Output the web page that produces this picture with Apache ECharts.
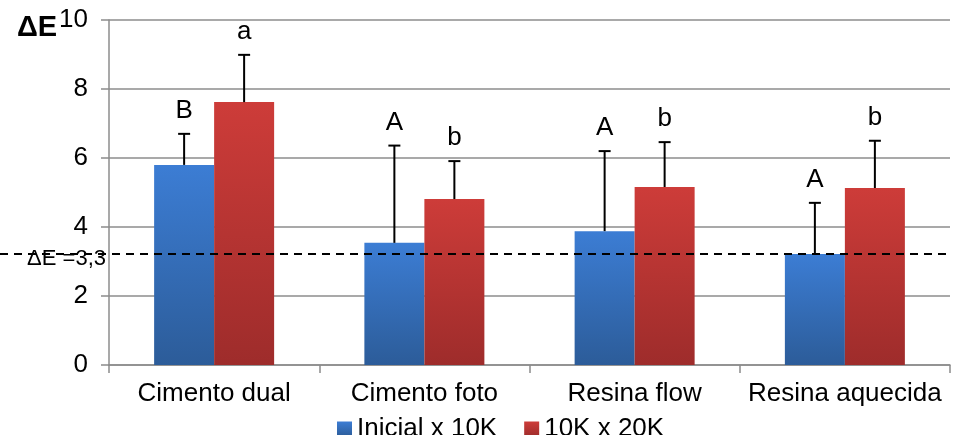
<!DOCTYPE html>
<html><head><meta charset="utf-8">
<script src="https://cdn.jsdelivr.net/npm/echarts@6/dist/echarts.min.js"></script>
<style>html,body{margin:0;padding:0;background:#fff}#c{width:955px;height:435px}</style>
</head><body><div id="c"></div>
<script>
const categories = ['Cimento dual', 'Cimento foto', 'Resina flow', 'Resina aquecida'];
const seriesNames = ['Inicial x 10K', '10K x 20K'];
const inicialMean = [5.80, 3.54, 3.88, 3.22];
const inicialErr  = [6.70, 6.36, 6.20, 4.70];
const inicialLetters = ['B', 'A', 'A', 'A'];
const k20Mean = [7.62, 4.81, 5.16, 5.13];
const k20Err  = [8.99, 5.91, 6.46, 6.50];
const k20Letters = ['a', 'b', 'b', 'b'];
const yTicks = [0, 2, 4, 6, 8, 10];
const threshold = 3.22;
const thresholdLabel = 'ΔE =3,3';

const BAR_W = 60;
const FONT = 'Liberation Sans, Arial, sans-serif';
const FS = 26;

const blueGrad = new echarts.graphic.LinearGradient(0,0,0,1,[{offset:0,color:'#3c7dd4'},{offset:1,color:'#2c5c99'}]);
const redGrad = new echarts.graphic.LinearGradient(0,0,0,1,[{offset:0,color:'#cd3c39'},{offset:1,color:'#9e2c2b'}]);

function errSeries(means, errs, letters, side) {
  return {
    type: 'custom',
    z: 5,
    silent: true,
    data: means.map((m, i) => [i, m, errs[i]]),
    renderItem: function (params, api) {
      const i = api.value(0);
      const base = api.coord([i, api.value(1)]);
      const top = api.coord([i, api.value(2)]);
      const x = base[0] + side * BAR_W / 2;
      return {
        type: 'group',
        children: [
          { type: 'line', shape: { x1: x, y1: base[1], x2: x, y2: top[1] }, style: { stroke: '#000', lineWidth: 2 } },
          { type: 'line', shape: { x1: x - 6, y1: top[1], x2: x + 6, y2: top[1] }, style: { stroke: '#000', lineWidth: 2 } },
          { type: 'text', x: x, y: top[1] - 10, style: { text: letters[i], fill: '#000', font: FS + 'px ' + FONT, textAlign: 'center', textVerticalAlign: 'bottom' } }
        ]
      };
    }
  };
}

const chart = echarts.init(document.getElementById('c'));
chart.setOption({
  animation: false,
  grid: { left: 109, right: 5, top: 20, bottom: 70 },
  legend: {
    data: seriesNames,
    left: 332, top: 411,
    itemWidth: 15, itemHeight: 15, itemGap: 27,
    icon: 'rect',
    textStyle: { fontSize: FS, color: '#000', fontFamily: FONT }
  },
  xAxis: {
    type: 'category',
    data: categories,
    axisLine: { lineStyle: { color: '#8c8c8c', width: 1.5 } },
    axisTick: { show: true, interval: 0, alignWithLabel: false, length: 8, lineStyle: { color: '#8c8c8c', width: 1.5 } },
    axisLabel: { interval: 0, fontSize: FS, color: '#000', fontFamily: FONT, margin: 16 }
  },
  yAxis: {
    type: 'value', min: yTicks[0], max: yTicks[yTicks.length-1], interval: 2,
    axisLine: { show: true, lineStyle: { color: '#8c8c8c', width: 1.5 } },
    axisTick: { show: true, length: 8, lineStyle: { color: '#8c8c8c', width: 1.5 } },
    splitLine: { lineStyle: { color: '#8c8c8c', width: 1.5 } },
    axisLabel: { fontSize: FS, color: '#000', fontFamily: FONT, margin: 21 }
  },
  series: [
    { name: seriesNames[0], type: 'bar', data: inicialMean, barWidth: BAR_W, barGap: '0%',
      itemStyle: { color: blueGrad, shadowBlur: 4, shadowOffsetX: 2, shadowOffsetY: 1, shadowColor: 'rgba(0,0,0,0.3)' } },
    { name: seriesNames[1], type: 'bar', data: k20Mean, barWidth: BAR_W, barGap: '0%',
      itemStyle: { color: redGrad, shadowBlur: 4, shadowOffsetX: 2, shadowOffsetY: 1, shadowColor: 'rgba(0,0,0,0.3)' } },
    errSeries(inicialMean, inicialErr, inicialLetters, -1),
    errSeries(k20Mean, k20Err, k20Letters, 1)
  ]
});

const ty = chart.convertToPixel({ yAxisIndex: 0 }, threshold);
chart.setOption({
  graphic: [
    { type: 'line', z: 10, shape: { x1: 0, y1: ty, x2: 950, y2: ty }, style: { stroke: '#000', lineWidth: 2, lineDash: [8, 6] } },
    { type: 'text', z: 11, x: 106, y: ty + 5, style: { text: thresholdLabel, fill: '#000', font: '22px ' + FONT, textAlign: 'right', textVerticalAlign: 'middle' } },
    { type: 'text', z: 11, x: 17, y: 42, style: { text: 'ΔE', fill: '#000', font: 'bold 29px ' + FONT, textAlign: 'left', textVerticalAlign: 'bottom' } }
  ]
});
</script></body></html>
